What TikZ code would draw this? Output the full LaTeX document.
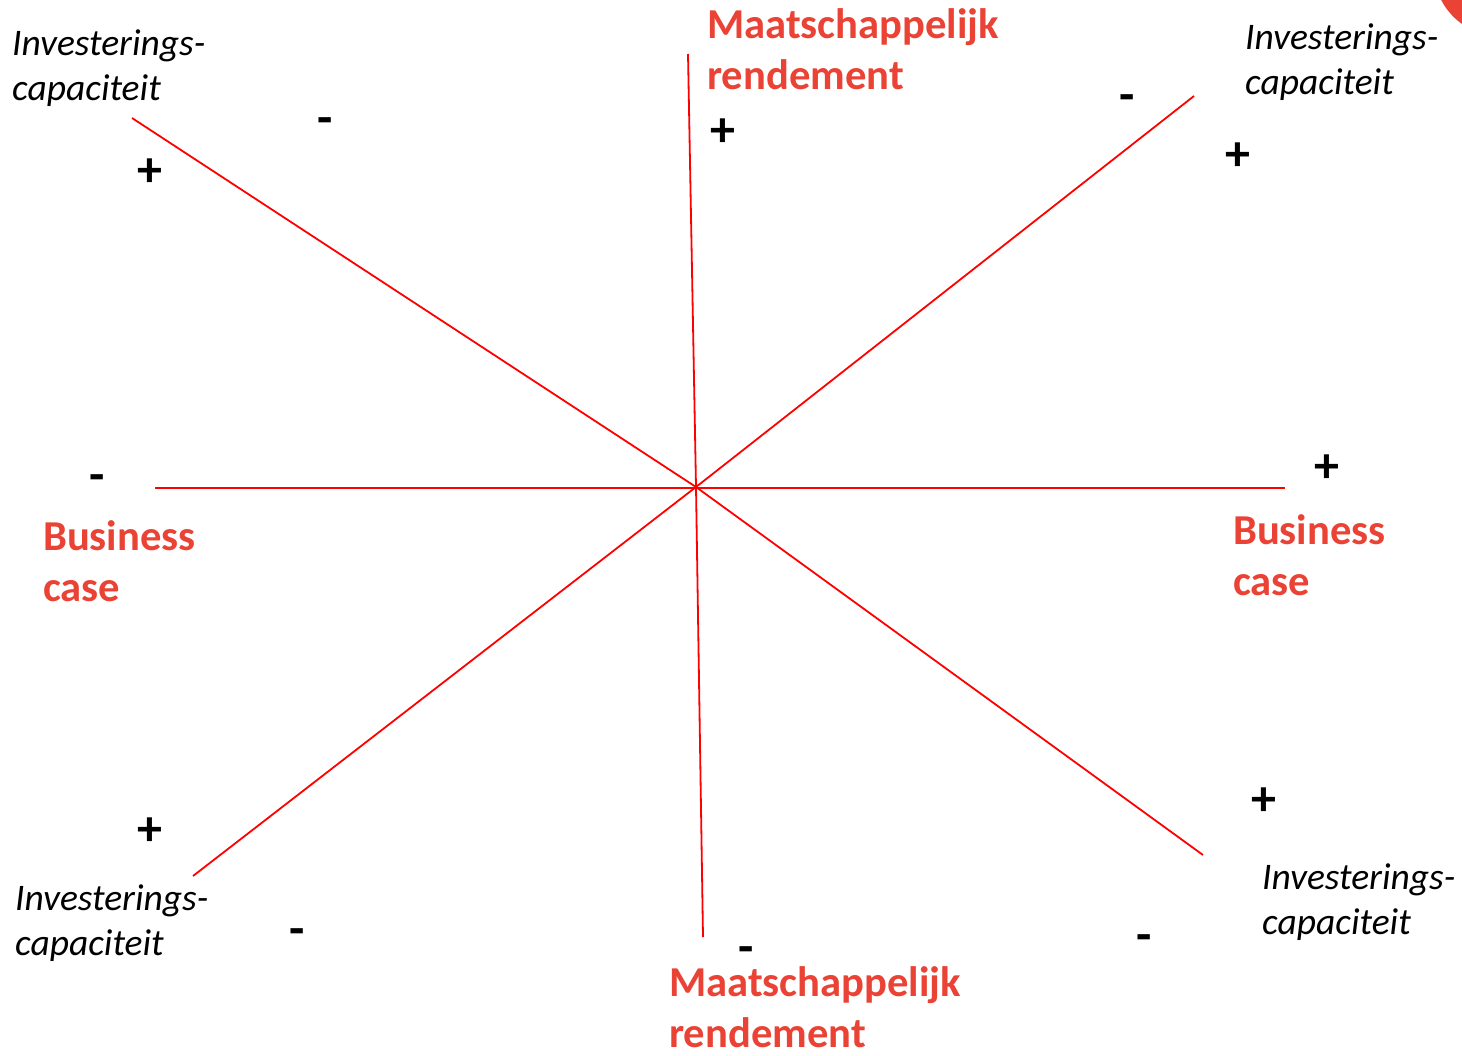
\documentclass[tikz,border=0pt]{standalone}
\usepackage{fontspec}
\setmainfont{Carlito}
\definecolor{lblred}{HTML}{EA4335}
\tikzset{
  axis/.style={draw=red, line width=1.8pt, line join=miter},
  invlabel/.style={anchor=north west, inner sep=0pt, align=left, font=\fontsize{37.5}{45}\selectfont\itshape},
  redlabel/.style={anchor=north west, inner sep=0pt, align=left, text=lblred, font=\fontsize{42.6}{51}\selectfont\bfseries},
  sign/.style={inner sep=0pt, font=\fontsize{50}{50}\selectfont\bfseries}
}
\begin{document}
\begin{tikzpicture}[x=1pt,y=-1pt]
\useasboundingbox (0,0) rectangle (1462,1055);
\begin{scope}
\clip (0,0) rectangle (1462,1055);
\fill[lblred] (1500,-30) circle (66);
\end{scope}
% axis end points
\coordinate (ctr) at (696,487);
\coordinate (hL) at (155,488);
\coordinate (hR) at (1285,488);
\coordinate (vT) at (688,54);
\coordinate (vB) at (703,937);
\coordinate (d1a) at (132,118);
\coordinate (d1b) at (1203,855);
\coordinate (d2a) at (1194,96);
\coordinate (d2b) at (193,876);
\draw[axis] (hL) -- (hR);
\draw[axis] (vT) -- (ctr) -- (vB);
\draw[axis] (d1a) -- (ctr) -- (d1b);
\draw[axis] (d2a) -- (ctr) -- (d2b);
% labels
\node[invlabel] (invTL) at (12,29) {Investerings-\\capaciteit};
\node[invlabel] (invTR) at (1245,23) {Investerings-\\capaciteit};
\node[invlabel] (invBL) at (15,884) {Investerings-\\capaciteit};
\node[invlabel] (invBR) at (1262,863) {Investerings-\\capaciteit};
\node[redlabel] (mrT) at (707,8) {Maatschappelijk\\rendement};
\node[redlabel] (mrB) at (669,966) {Maatschappelijk\\rendement};
\node[redlabel] (bcL) at (43,520) {Business\\case};
\node[redlabel] (bcR) at (1233,514) {Business\\case};
% signs
\node[sign] (sTLm) at (325,126) {-};
\node[sign] (sTLp) at (150,173) {+};
\node[sign] (sTp) at (723,133) {+};
\node[sign] (sTRm) at (1127,103) {-};
\node[sign] (sTRp) at (1238,157) {+};
\node[sign] (sLm) at (97,483) {-};
\node[sign] (sRp) at (1327,469) {+};
\node[sign] (sBLp) at (150,832) {+};
\node[sign] (sBLm) at (297,937) {-};
\node[sign] (sBm) at (746,955) {-};
\node[sign] (sBRp) at (1264,802) {+};
\node[sign] (sBRm) at (1144,943) {-};
\end{tikzpicture}
\end{document}
